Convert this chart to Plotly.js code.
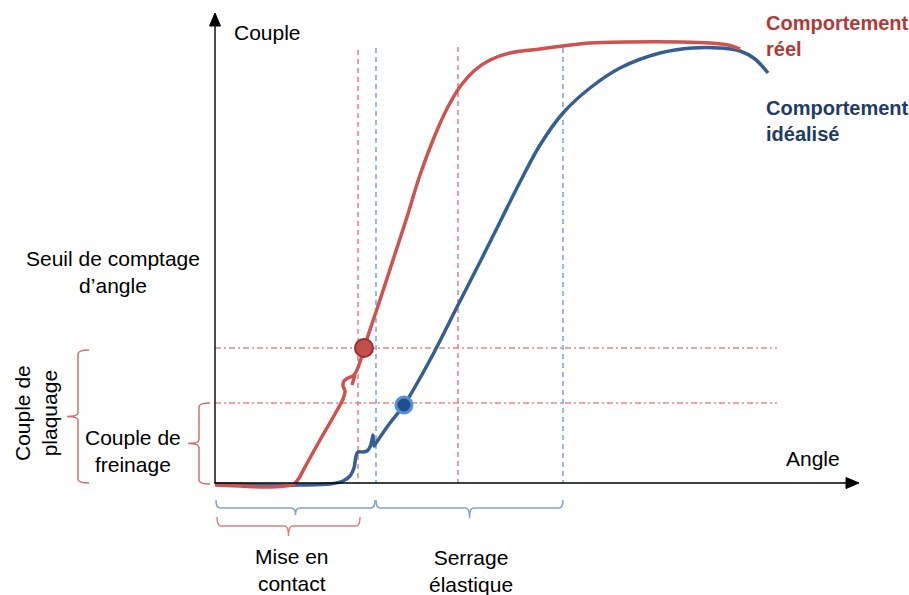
<!DOCTYPE html>
<html><head><meta charset="utf-8">
<script src="https://cdn.plot.ly/plotly-3.0.1.min.js"></script>
<style>html,body{margin:0;padding:0;background:#fff}#chart{width:909px;height:595px}</style>
</head><body><div id="chart"></div>
<script>
// Schematic drawn in a picture-like coordinate space (x: 0..909 right, y: 0..595 down)
const realX = [215,240,265,285,294,299,305,320,335,343,345,343,344,348,353,356,360,364,380,393,407,420,438,450,462,475,490,510,540,563,590,627,680,710,728,740];
const realY = [485,486,487,486,484,478,467,440,414,399,391,386,381,378,376,372,362,348,300,260,217,175,128,103,84,70,60,53,49,46,43,42,42,43,45,49];
const realHookX = [352,355];
const realHookY = [385,375];
const idealX = [215,260,300,330,343,350,354,356,358,363,367,370,372,373,374,376,390,404,430,458,480,500,520,540,563,590,620,660,693,720,740,755,768];
const idealY = [484,485,485,484,481,476,468,456,452,452,451,447,440,435,446,443,423,405,360,305,262,222,182,145,113,88,68,53,48,48,51,59,73];
const realPointX = [364], realPointY = [348];
const idealPointX = [404], idealPointY = [405];
const vGuideX = [358,376,458,563];
const vGuideTop = [50,48,47,48];
const vGuideSeries = ['real','ideal','real','ideal'];
const hGuideY = [348,403];
const hGuideFrom = 215, hGuideTo = 777;
const origin = [215,483];
const axisEnds = {x: 859, y: 13};
const bottomBrackets = [ // x1, x2, yTop, yLine, yTip, series
  [216,375,500,508,515,'ideal'],
  [376,563,500,508,518,'ideal'],
  [217,360,517,526,536,'real']
];
const leftBrackets = [ // x, y1, y2, serif x, tip x
  [78,350,483,89,67],
  [199,403,484,210,188]
];

const RED = '#CD5250', BLUE = '#365F91';
const GUIDE = {real:'#E06A6A', ideal:'#6A92CC'};
const FONT = 'Liberation Sans, Arial, sans-serif';

const shapes = [];
vGuideX.forEach((x,i)=>shapes.push({type:'line',xref:'x',yref:'y',x0:x,x1:x,y0:vGuideTop[i],y1:origin[1],
  line:{color:GUIDE[vGuideSeries[i]],width:1.3,dash:'5px,4px'},layer:'below'}));
hGuideY.forEach(y=>shapes.push({type:'line',xref:'x',yref:'y',x0:hGuideFrom,x1:hGuideTo,y0:y,y1:y,
  line:{color:'#E08A8A',width:1.3,dash:'6px,3px,2px,3px'},layer:'below'}));
// axes
shapes.push({type:'line',xref:'x',yref:'y',x0:origin[0],x1:origin[0],y0:origin[1]+1,y1:axisEnds.y+10,line:{color:'#000',width:1.4}});
shapes.push({type:'line',xref:'x',yref:'y',x0:origin[0],x1:axisEnds.x-10,y0:origin[1],y1:origin[1],line:{color:'#000',width:1.4}});
shapes.push({type:'path',xref:'x',yref:'y',path:`M ${origin[0]-5.5},${axisEnds.y+13} L ${origin[0]},${axisEnds.y} L ${origin[0]+5.5},${axisEnds.y+13} Z`,fillcolor:'#000',line:{color:'#000',width:1}});
shapes.push({type:'path',xref:'x',yref:'y',path:`M ${axisEnds.x-13},${origin[1]-5.5} L ${axisEnds.x},${origin[1]} L ${axisEnds.x-13},${origin[1]+5.5} Z`,fillcolor:'#000',line:{color:'#000',width:1}});
// brackets
bottomBrackets.forEach(b=>{
  const [x1,x2,yt,yl,yp,s]=b, xm=(x1+x2)/2, r=4;
  const p=`M ${x1},${yt} Q ${x1},${yl} ${x1+r},${yl} L ${xm-r},${yl} Q ${xm},${yl} ${xm},${yp} Q ${xm},${yl} ${xm+r},${yl} L ${x2-r},${yl} Q ${x2},${yl} ${x2},${yt}`;
  shapes.push({type:'path',xref:'x',yref:'y',path:p,line:{color:s==='real'?'#D88080':'#7FA0D0',width:1.5}});
});
leftBrackets.forEach(b=>{
  const [x,y1,y2,xs,xt]=b, ym=(y1+y2)/2, r=4;
  const p=`M ${xs},${y1} Q ${x},${y1} ${x},${y1+r} L ${x},${ym-r} Q ${x},${ym} ${xt},${ym} Q ${x},${ym} ${x},${ym+r} L ${x},${y2-r} Q ${x},${y2} ${xs},${y2}`;
  shapes.push({type:'path',xref:'x',yref:'y',path:p,line:{color:'#D07070',width:1.5}});
});

const traces = [
  {x:idealX,y:idealY,mode:'lines',line:{color:BLUE,width:3.5,shape:'spline',smoothing:0.9},hoverinfo:'skip'},
  {x:realX,y:realY,mode:'lines',line:{color:RED,width:3.5,shape:'spline',smoothing:0.9},hoverinfo:'skip'},
  {x:realHookX,y:realHookY,mode:'lines',line:{color:RED,width:3.5},hoverinfo:'skip'},
  {x:realPointX,y:realPointY,mode:'markers',marker:{size:18,color:'#C0504D',line:{color:'#9A2E2B',width:2}},hoverinfo:'skip'},
  {x:idealPointX,y:idealPointY,mode:'markers',marker:{size:16,color:'#1F4E8C',line:{color:'#5B8FD6',width:3}},hoverinfo:'skip'}
];

function ann(text,x,y,opts){return Object.assign({text:text,x:x,y:y,xref:'x',yref:'y',showarrow:false,
  font:{family:FONT,size:21,color:'#000'},xanchor:'center',yanchor:'middle',align:'center'},opts||{});}
const annotations = [
  ann('Couple',232,32,{xanchor:'left'}),
  ann('Seuil de comptage<br>d’angle',113,272),
  ann('Couple de<br>plaquage',36,413,{textangle:-90}),
  ann('Couple de<br>freinage',133,451),
  ann('Angle',813,458),
  ann('Mise en<br>contact',292,570),
  ann('Serrage<br>élastique',471,571),
  ann('<b>Comportement<br>réel</b>',764,36,{xanchor:'left',align:'left',font:{family:FONT,size:20,color:'#B13A38'}}),
  ann('<b>Comportement<br>idéalisé</b>',764,121,{xanchor:'left',align:'left',font:{family:FONT,size:20,color:'#1F3B66'}})
];

const layout = {
  width:909,height:595,margin:{l:0,r:0,t:0,b:0},
  paper_bgcolor:'#fff',plot_bgcolor:'#fff',showlegend:false,
  xaxis:{range:[0,909],visible:false,fixedrange:true},
  yaxis:{range:[595,0],visible:false,fixedrange:true},
  shapes:shapes,annotations:annotations
};
Plotly.newPlot('chart',traces,layout,{staticPlot:true,displayModeBar:false});
</script></body></html>
